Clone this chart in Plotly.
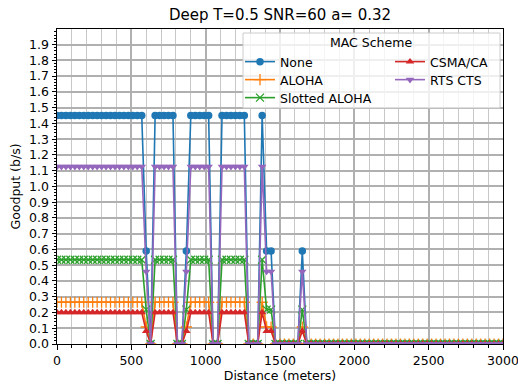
import plotly.graph_objects as go

# Distance grid (meters), one sample every 30 m from 0 to 3000
distance = list(range(0, 3001, 30))

# Goodput (b/s) per MAC scheme
goodput_none = [
    1.45, 1.45, 1.45, 1.45, 1.45, 1.45, 1.45, 1.45, 1.45, 1.45,
    1.45, 1.45, 1.45, 1.45, 1.45, 1.45, 1.45, 1.45, 1.45, 1.45,
    0.59, 0, 1.45, 1.45, 1.45, 1.45, 1.45, 0, 0, 0.59,
    1.45, 1.45, 1.45, 1.45, 1.45, 0, 0, 1.45, 1.45, 1.45,
    1.45, 1.45, 1.45, 0, 0, 0, 1.45, 0.59, 0.59, 0,
    0, 0, 0, 0, 0, 0.59, 0, 0, 0, 0,
    0, 0, 0, 0, 0, 0, 0, 0, 0, 0,
    0, 0, 0, 0, 0, 0, 0, 0, 0, 0,
    0, 0, 0, 0, 0, 0, 0, 0, 0, 0,
    0, 0, 0, 0, 0, 0, 0, 0, 0, 0,
    0,
]
goodput_aloha = [
    0.265, 0.265, 0.265, 0.265, 0.265, 0.265, 0.265, 0.265, 0.265, 0.265,
    0.265, 0.265, 0.265, 0.265, 0.265, 0.265, 0.265, 0.265, 0.265, 0.265,
    0.108, 0, 0.265, 0.265, 0.265, 0.265, 0.265, 0, 0, 0.108,
    0.265, 0.265, 0.265, 0.265, 0.265, 0, 0, 0.265, 0.265, 0.265,
    0.265, 0.265, 0.265, 0, 0, 0, 0.265, 0.108, 0.108, 0,
    0, 0, 0, 0, 0, 0.108, 0, 0, 0, 0,
    0, 0, 0, 0, 0, 0, 0, 0, 0, 0,
    0, 0, 0, 0, 0, 0, 0, 0, 0, 0,
    0, 0, 0, 0, 0, 0, 0, 0, 0, 0,
    0, 0, 0, 0, 0, 0, 0, 0, 0, 0,
    0,
]
goodput_slotted = [
    0.535, 0.535, 0.535, 0.535, 0.535, 0.535, 0.535, 0.535, 0.535, 0.535,
    0.535, 0.535, 0.535, 0.535, 0.535, 0.535, 0.535, 0.535, 0.535, 0.535,
    0.218, 0, 0.535, 0.535, 0.535, 0.535, 0.535, 0, 0, 0.218,
    0.535, 0.535, 0.535, 0.535, 0.535, 0, 0, 0.535, 0.535, 0.535,
    0.535, 0.535, 0.535, 0, 0, 0, 0.535, 0.218, 0.218, 0,
    0, 0, 0, 0, 0, 0.218, 0, 0, 0, 0,
    0, 0, 0, 0, 0, 0, 0, 0, 0, 0,
    0, 0, 0, 0, 0, 0, 0, 0, 0, 0,
    0, 0, 0, 0, 0, 0, 0, 0, 0, 0,
    0, 0, 0, 0, 0, 0, 0, 0, 0, 0,
    0,
]
goodput_csma = [
    0.2, 0.2, 0.2, 0.2, 0.2, 0.2, 0.2, 0.2, 0.2, 0.2,
    0.2, 0.2, 0.2, 0.2, 0.2, 0.2, 0.2, 0.2, 0.2, 0.2,
    0.082, 0, 0.2, 0.2, 0.2, 0.2, 0.2, 0, 0, 0.082,
    0.2, 0.2, 0.2, 0.2, 0.2, 0, 0, 0.2, 0.2, 0.2,
    0.2, 0.2, 0.2, 0, 0, 0, 0.2, 0.082, 0.082, 0,
    0, 0, 0, 0, 0, 0.082, 0, 0, 0, 0,
    0, 0, 0, 0, 0, 0, 0, 0, 0, 0,
    0, 0, 0, 0, 0, 0, 0, 0, 0, 0,
    0, 0, 0, 0, 0, 0, 0, 0, 0, 0,
    0, 0, 0, 0, 0, 0, 0, 0, 0, 0,
    0,
]
goodput_rts = [
    1.125, 1.125, 1.125, 1.125, 1.125, 1.125, 1.125, 1.125, 1.125, 1.125,
    1.125, 1.125, 1.125, 1.125, 1.125, 1.125, 1.125, 1.125, 1.125, 1.125,
    0.46, 0, 1.125, 1.125, 1.125, 1.125, 1.125, 0, 0, 0.46,
    1.125, 1.125, 1.125, 1.125, 1.125, 0, 0, 1.125, 1.125, 1.125,
    1.125, 1.125, 1.125, 0, 0, 0, 1.125, 0.46, 0.46, 0,
    0, 0, 0, 0, 0, 0.46, 0, 0, 0, 0,
    0, 0, 0, 0, 0, 0, 0, 0, 0, 0,
    0, 0, 0, 0, 0, 0, 0, 0, 0, 0,
    0, 0, 0, 0, 0, 0, 0, 0, 0, 0,
    0, 0, 0, 0, 0, 0, 0, 0, 0, 0,
    0,
]

schemes = ["None", "ALOHA", "Slotted ALOHA", "CSMA/CA", "RTS CTS"]
series = [goodput_none, goodput_aloha, goodput_slotted, goodput_csma, goodput_rts]
colors = ["#1f77b4", "#ff7f0e", "#2ca02c", "#d62728", "#9467bd"]
symbols = ["circle", "cross-thin", "x-thin", "triangle-up", "triangle-down"]

FONT = "DejaVu Sans, Arial, sans-serif"
FS = 12.5
W, H = 518, 388
L, R, T, B = 57, 15, 29, 44
PW, PH = W - L - R, H - T - B


def px_x(p):
    return (p - L) / PW


def px_y(p):
    return (H - B - p) / PH


# legend entry slots (left edge, row centre) in pixels: two columns
legend_slots = [(240, 62), (240, 80), (240, 98), (390, 62), (390, 80)]

fig = go.Figure()
legends = {}
for k, (name, vals, col, sym) in enumerate(zip(schemes, series, colors, symbols)):
    thin = sym.endswith("-thin")
    lid = "legend" if k == 0 else f"legend{k + 1}"
    fig.add_trace(go.Scatter(
        x=distance, y=vals, name=name, mode="lines+markers",
        line=dict(color=col, width=1.6),
        marker=dict(symbol=sym, size=8 if thin else 7.5, color=col,
                    line=dict(color=col, width=1.3 if thin else 0)),
        legend=lid,
    ))
    lx, ly = legend_slots[k]
    legends[lid] = dict(
        x=px_x(lx), y=px_y(ly), xanchor="left", yanchor="middle",
        orientation="v", bgcolor="rgba(0,0,0,0)", borderwidth=0,
        font=dict(family=FONT, size=FS, color="#000000"), itemwidth=30,
    )

fig.update_layout(
    width=W, height=H,
    margin=dict(l=L, r=R, t=T, b=B),
    paper_bgcolor="white", plot_bgcolor="white",
    font=dict(family=FONT, size=FS, color="#000000"),
    title=dict(text="Deep T=0.5 SNR=60 a= 0.32", x=280 / W, xanchor="center",
               y=1 - 15 / H, yanchor="middle", yref="container",
               font=dict(size=15)),
    showlegend=True,
    # legend frame and heading
    shapes=[dict(type="rect", xref="paper", yref="paper",
                 x0=px_x(243), x1=px_x(500), y0=px_y(108), y1=px_y(33),
                 fillcolor="rgba(255,255,255,0.8)",
                 line=dict(color="#cccccc", width=1), layer="above")],
    annotations=[dict(text="MAC Scheme", xref="paper", yref="paper",
                      x=px_x(371), y=px_y(43), xanchor="center", yanchor="middle",
                      showarrow=False, font=dict(size=FS))],
    xaxis=dict(
        range=[0, 3000], dtick=500, tick0=0, ticklabeloverflow="allow",
        showline=True, mirror=True, linecolor="black", linewidth=1,
        ticks="outside", ticklen=4.5, tickwidth=1, tickcolor="black",
        showgrid=True, gridcolor="#b0b0b0", gridwidth=1.8,
        minor=dict(dtick=100, tick0=0, ticks="outside", ticklen=2.5, tickcolor="black",
                   showgrid=True, gridcolor="#c8c8c8", gridwidth=0.9),
        zeroline=False,
        title=dict(text="Distance (meters)", standoff=3, font=dict(size=FS)),
        automargin=False,
    ),
    yaxis=dict(
        range=[0, 1.999], dtick=0.1, tick0=0, tickformat=".1f",
        showline=True, mirror=True, linecolor="black", linewidth=1,
        ticks="outside", ticklen=4.5, tickwidth=1, tickcolor="black",
        showgrid=True, gridcolor="#b0b0b0", gridwidth=1.8,
        minor=dict(dtick=0.02, tick0=0, ticks="outside", ticklen=2.5, tickcolor="black",
                   showgrid=False),
        zeroline=False,
        title=dict(text="Goodput (b/s)", standoff=5, font=dict(size=FS)),
        automargin=False,
    ),
    **legends,
)

fig.write_html("out.html")
